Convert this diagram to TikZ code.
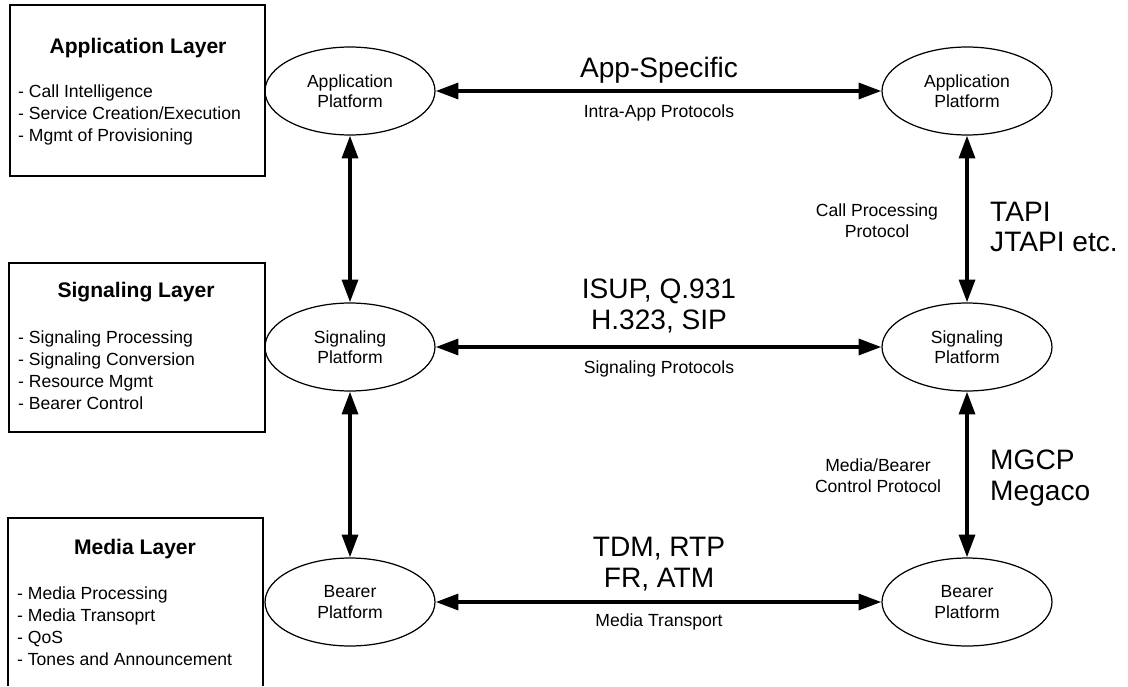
\documentclass[tikz,border=0pt]{standalone}
\usepackage{fontspec}
\setmainfont{Liberation Sans}
\usetikzlibrary{arrows.meta,positioning,shapes.geometric}

\tikzset{
  platform/.style={draw, ellipse, line width=0.7pt, minimum width=3.4cm,
    minimum height=1.76cm, align=center, font=\fontsize{10}{11.5}\selectfont},
  link/.style={{Triangle[length=13pt,width=9pt]}-{Triangle[length=13pt,width=9pt]},
    line width=2.2pt},
  layerbox/.style={draw, line width=0.6pt},
  layertitle/.style={font=\bfseries\fontsize{12}{14}\selectfont},
  layeritem/.style={anchor=west, align=left, font=\fontsize{10}{12.5}\selectfont},
  proto/.style={align=center, font=\fontsize{16}{17.5}\selectfont},
  protoside/.style={anchor=west, align=left, font=\fontsize{16}{17.5}\selectfont},
  note/.style={align=center, font=\fontsize{10}{12}\selectfont}
}

\begin{document}
\begin{tikzpicture}[x=0.02cm, y=-0.02cm]
  \useasboundingbox (0,0) rectangle (1128,686);

  % layer boxes
  \draw[layerbox] (10,5) rectangle (265,176);
  \draw[layerbox] (9,263) rectangle (265,432);
  \draw[layerbox] (8,686) -- (8,518) -- (263,518) -- (263,686);

  \node[layertitle] (apptitle) at (138,48) {Application Layer};
  \node[layeritem] (appitems) at (12,115) {- Call Intelligence\\- Service Creation/Execution\\- Mgmt of Provisioning};

  \node[layertitle] (sigtitle) at (136,292) {Signaling Layer};
  \node[layeritem] (sigitems) at (12,370) {- Signaling Processing\\- Signaling Conversion\\- Resource Mgmt\\- Bearer Control};

  \node[layertitle] (medtitle) at (135,549) {Media Layer};
  \node[layeritem] (meditems) at (11,626) {- Media Processing\\- Media Transoprt\\- QoS\\- Tones and Announcement};

  % platforms
  \node[platform] (appL) at (350,91) {Application\\Platform};
  \node[platform] (sigL) at (350,347) {Signaling\\Platform};
  \node[platform] (bearL) at (350,602) {Bearer\\Platform};
  \node[platform] (appR) at (967,91) {Application\\Platform};
  \node[platform] (sigR) at (967,347) {Signaling\\Platform};
  \node[platform] (bearR) at (967,602) {Bearer\\Platform};

  % connectors
  \draw[link] (appL) -- (appR);
  \draw[link] (sigL) -- (sigR);
  \draw[link] (bearL) -- (bearR);
  \draw[link] (appL) -- (sigL);
  \draw[link] (sigL) -- (bearL);
  \draw[link] (appR) -- (sigR);
  \draw[link] (sigR) -- (bearR);

  % protocol labels
  \node[proto] (appspec) at (659,70) {App-Specific};
  \node[note] (intraapp) at (659,113) {Intra-App Protocols};
  \node[proto] (sigproto) at (659,306) {ISUP, Q.931\\H.323, SIP};
  \node[note] (signote) at (659,369) {Signaling Protocols};
  \node[proto] (medproto) at (659,564) {TDM, RTP\\FR, ATM};
  \node[note] (mednote) at (659,622) {Media Transport};

  \node[note] (callnote) at (877,221) {Call Processing\\Protocol};
  \node[protoside] (tapi) at (984,227) {TAPI\\JTAPI etc.};
  \node[note] (mgcnote) at (878,476) {Media/Bearer\\Control Protocol};
  \node[protoside] (mgcp) at (984,478) {MGCP\\Megaco};
\end{tikzpicture}
\end{document}
